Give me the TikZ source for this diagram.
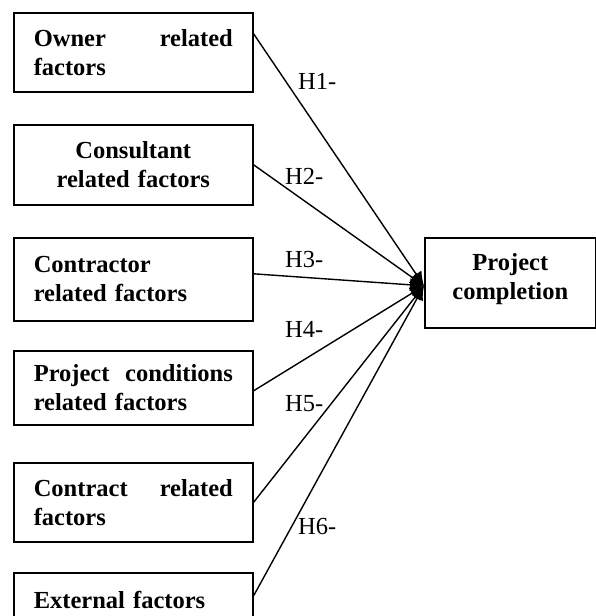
\documentclass[tikz,border=0pt]{standalone}
\usepackage{fontspec}
\setmainfont{Liberation Serif}
\usetikzlibrary{arrows.meta}
\begin{document}
\begin{tikzpicture}[x=1pt,y=-1pt,
  box/.style={draw, line width=1.6pt, minimum width=239pt, text width=199pt,
    inner xsep=20pt, inner ysep=0pt, font=\fontsize{24.5}{29}\selectfont\bfseries,
    align=left, anchor=north west},
  conn/.style={line width=1.4pt, -{Latex[length=14pt,width=13pt]}},
  hlab/.style={anchor=base west, inner sep=0pt, font=\fontsize{24.5}{29}\selectfont}]
\useasboundingbox[fill=white] (0,0) rectangle (596,616);
\node[box, minimum height=79pt] (b1) at (13,12) {Owner\hfill related\\factors};
\node[box, minimum height=80pt, align=center] (b2) at (13,124) {Consultant\\related factors};
\node[box, minimum height=83pt] (b3) at (13,237) {Contractor\\related factors};
\node[box, minimum height=74pt] (b4) at (13,350) {Project\hfill conditions\\related factors};
\node[box, minimum height=79pt] (b5) at (13,462) {Contract\hfill related\\factors};
\node[box, minimum height=54pt] (b6) at (13,572) {External factors};
\node[box, minimum width=171pt, text width=151pt, inner xsep=10pt, minimum height=90pt, align=center] (pc) at (424,237) {Project\\completion\rule[-12pt]{0pt}{0pt}};
\draw[conn] ([yshift=18.5pt]b1.east) -- ([yshift=-3pt]pc.west);
\draw[conn] (b2.east) -- ([yshift=-3pt]pc.west);
\draw[conn] ([yshift=5.5pt]b3.east) -- ([yshift=-3pt]pc.west);
\draw[conn] ([yshift=-3pt]b4.east) -- ([yshift=-3pt]pc.west);
\draw[conn] (b5.east) -- ([yshift=-3pt]pc.west);
\draw[conn] ([yshift=4pt]b6.east) -- ([yshift=-3pt]pc.west);
\node[hlab] (h1) at (298,89) {H1-};
\node[hlab] (h2) at (285,184) {H2-};
\node[hlab] (h3) at (285,267) {H3-};
\node[hlab] (h4) at (285,337) {H4-};
\node[hlab] (h5) at (285,411) {H5-};
\node[hlab] (h6) at (298,534) {H6-};
\end{tikzpicture}
\end{document}
